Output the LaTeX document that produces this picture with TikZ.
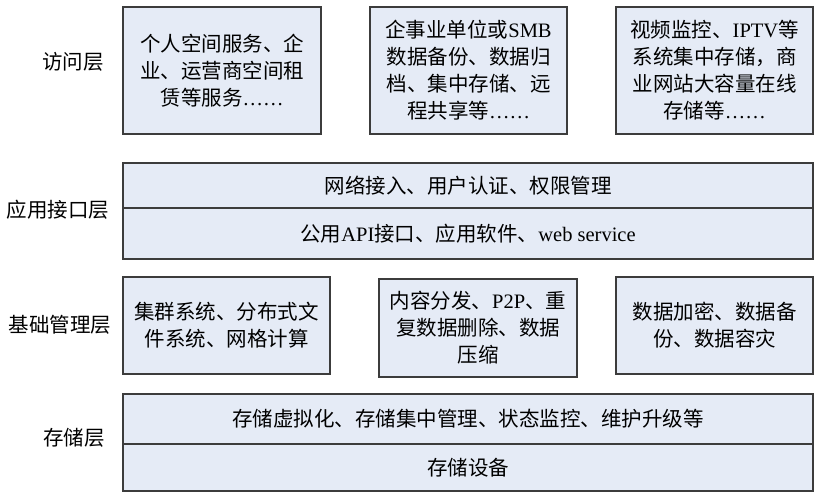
\documentclass[tikz,border=0pt]{standalone}
\usepackage{fontspec}
\setmainfont{Noto Sans CJK SC}
\newfontfamily\lat{Liberation Serif}
\usepackage{tikz}
\usetikzlibrary{positioning}
\definecolor{boxfill}{RGB}{229,235,246}
\definecolor{boxline}{RGB}{60,60,60}

\begin{document}
\begin{tikzpicture}[x=1pt, y=-1pt,
		layer/.style={rectangle, fill=boxfill, draw=boxline, line width=1.3pt, inner sep=0pt, outer sep=0pt, align=center, font=\fontsize{20.5}{27}\selectfont},
		tag/.style={inner sep=0pt, font=\fontsize{20.5}{27}\selectfont}]
		\useasboundingbox (0,0) rectangle (826,500);
		% access layer
		\node[tag](lblaccess) at (73,62){访问层};
		\node[layer, minimum width=198pt, minimum height=127pt](accone)   at (222,70.5)  {个人空间服务、企\\业、运营商空间租\\赁等服务{\lat ……}};
		\node[layer, minimum width=197pt, minimum height=127pt](acctwo)   at (468.5,70.5){企事业单位或{\lat SMB}\\数据备份、数据归\\档、集中存储、远\\程共享等{\lat ……}};
		\node[layer, minimum width=197pt, minimum height=127pt](accthree) at (714.5,70.5){视频监控、{\lat IPTV}等\\系统集中存储，商\\业网站大容量在线\\存储等{\lat ……}};
		% application interface layer
		\node[tag](lblapi) at (58,210){应用接口层};
		\node[layer, minimum width=690pt, minimum height=45pt](apitop) at (468,185.5){网络接入、用户认证、权限管理};
		\node[layer, minimum width=690pt, minimum height=51pt, below=0pt of apitop](apibottom){公用{\lat API}接口、应用软件、{\lat web service}};
		% basic management layer
		\node[tag](lblbase) at (60,325){基础管理层};
		\node[layer, minimum width=207pt, minimum height=97pt](baseone)   at (226.5,325.5){集群系统、分布式文\\件系统、网格计算};
		\node[layer, minimum width=198pt, minimum height=98pt](basetwo)   at (478,328)    {内容分发、{\lat P2P}、重\\复数据删除、数据\\压缩};
		\node[layer, minimum width=197pt, minimum height=97pt](basethree) at (714.5,325.5){数据加密、数据备\\份、数据容灾};
		% storage layer
		\node[tag](lblstore) at (74,438){存储层};
		\node[layer, minimum width=690pt, minimum height=50pt](storetop) at (468,419){存储虚拟化、存储集中管理、状态监控、维护升级等};
		\node[layer, minimum width=690pt, minimum height=47pt, below=0pt of storetop](storebottom){存储设备};
	\end{tikzpicture}
\end{document}
